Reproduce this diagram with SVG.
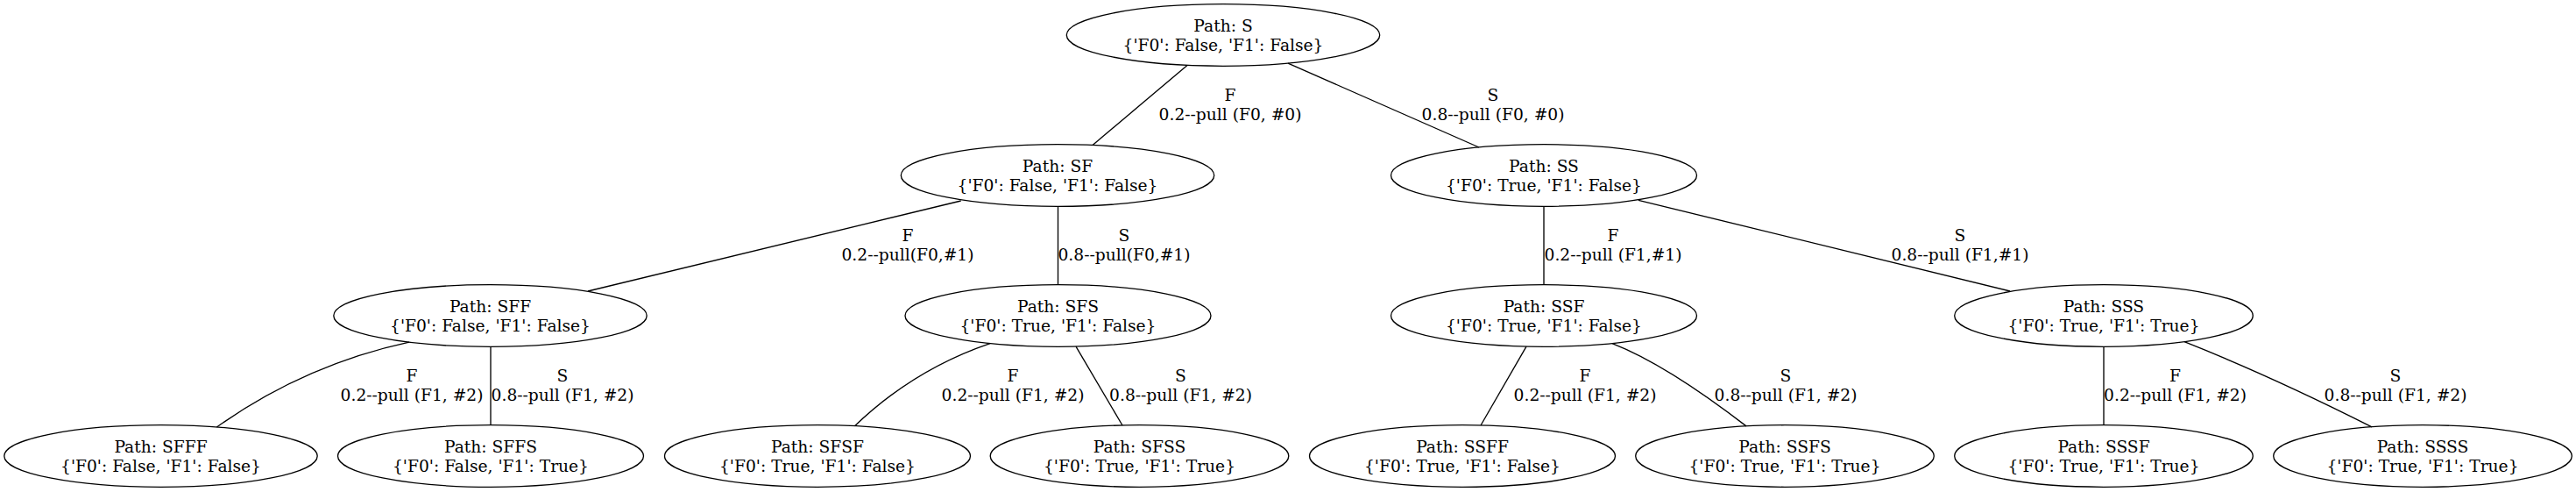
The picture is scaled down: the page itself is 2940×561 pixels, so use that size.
<svg xmlns="http://www.w3.org/2000/svg" width="2940" height="561" viewBox="0 0 2940 561">
<style>
.n ellipse{fill:none;stroke:#000;stroke-width:1.33}
.e path{fill:none;stroke:#000;stroke-width:1.33}
text{font-family:"DejaVu Serif",serif;font-size:18.67px;fill:#000;text-anchor:middle}
</style>
<rect width="2940" height="561" fill="#fff"/>
<g id="connectors" class="e">
<g id="e_S_SF"><path d="M1355,74.4 L1247,165.6"/><text x="1404" y="115">F</text><text x="1404" y="136.7">0.2--pull (F0, #0)</text></g>
<g id="e_S_SS"><path d="M1470,72.1 L1688,168"/><text x="1704" y="115">S</text><text x="1704" y="136.7">0.8--pull (F0, #0)</text></g>
<g id="e_SF_SFF"><path d="M1096.7,229 L671,332"/><text x="1036" y="275">F</text><text x="1036" y="296.7">0.2--pull(F0,#1)</text></g>
<g id="e_SF_SFS"><path d="M1207.5,235.3 L1207.5,324.7"/><text x="1283" y="275">S</text><text x="1283" y="296.7">0.8--pull(F0,#1)</text></g>
<g id="e_SS_SSF"><path d="M1762,235.3 L1762,324.7"/><text x="1841" y="275">F</text><text x="1841" y="296.7">0.2--pull (F1,#1)</text></g>
<g id="e_SS_SSS"><path d="M1870,228.3 L2294,332"/><text x="2237" y="275">S</text><text x="2237" y="296.7">0.8--pull (F1,#1)</text></g>
<g id="e_SFF_SFFF"><path d="M467,390.2 Q347.6,416 247.4,487"/><text x="470" y="435">F</text><text x="470" y="456.7">0.2--pull (F1, #2)</text></g>
<g id="e_SFF_SFFS"><path d="M560,395.3 L560,484.7"/><text x="642" y="435">S</text><text x="642" y="456.7">0.8--pull (F1, #2)</text></g>
<g id="e_SFS_SFSF"><path d="M1130,391.6 Q1042.6,421.3 975.5,485.8"/><text x="1156" y="435">F</text><text x="1156" y="456.7">0.2--pull (F1, #2)</text></g>
<g id="e_SFS_SFSS"><path d="M1228,395.1 L1281,485"/><text x="1347.5" y="435">S</text><text x="1347.5" y="456.7">0.8--pull (F1, #2)</text></g>
<g id="e_SSF_SSFF"><path d="M1742,395.1 L1690,485"/><text x="1809" y="435">F</text><text x="1809" y="456.7">0.2--pull (F1, #2)</text></g>
<g id="e_SSF_SSFS"><path d="M1840,391.6 Q1901.5,415.5 1993,485.9"/><text x="2038" y="435">S</text><text x="2038" y="456.7">0.8--pull (F1, #2)</text></g>
<g id="e_SSS_SSSF"><path d="M2401,395.3 L2401,484.7"/><text x="2482.5" y="435">F</text><text x="2482.5" y="456.7">0.2--pull (F1, #2)</text></g>
<g id="e_SSS_SSSS"><path d="M2493,389.7 Q2590,428 2707,486.8"/><text x="2734" y="435">S</text><text x="2734" y="456.7">0.8--pull (F1, #2)</text></g>
</g>
<g id="S" class="n"><ellipse cx="1396" cy="40" rx="178.7" ry="35.3"/><text x="1396" y="36">Path: S</text><text x="1396" y="57.5">{'F0': False, 'F1': False}</text></g>
<g id="SF" class="n"><ellipse cx="1207" cy="200" rx="178.7" ry="35.3"/><text x="1207" y="196">Path: SF</text><text x="1207" y="217.5">{'F0': False, 'F1': False}</text></g>
<g id="SS" class="n"><ellipse cx="1762" cy="200" rx="174.5" ry="35.3"/><text x="1762" y="196">Path: SS</text><text x="1762" y="217.5">{'F0': True, 'F1': False}</text></g>
<g id="SFF" class="n"><ellipse cx="559.5" cy="360" rx="178.7" ry="35.3"/><text x="559.5" y="356">Path: SFF</text><text x="559.5" y="377.5">{'F0': False, 'F1': False}</text></g>
<g id="SFS" class="n"><ellipse cx="1207.5" cy="360" rx="174.5" ry="35.3"/><text x="1207.5" y="356">Path: SFS</text><text x="1207.5" y="377.5">{'F0': True, 'F1': False}</text></g>
<g id="SSF" class="n"><ellipse cx="1762" cy="360" rx="174.5" ry="35.3"/><text x="1762" y="356">Path: SSF</text><text x="1762" y="377.5">{'F0': True, 'F1': False}</text></g>
<g id="SSS" class="n"><ellipse cx="2401" cy="360" rx="170.3" ry="35.3"/><text x="2401" y="356">Path: SSS</text><text x="2401" y="377.5">{'F0': True, 'F1': True}</text></g>
<g id="SFFF" class="n"><ellipse cx="183.5" cy="520" rx="178.7" ry="35.3"/><text x="183.5" y="516">Path: SFFF</text><text x="183.5" y="537.5">{'F0': False, 'F1': False}</text></g>
<g id="SFFS" class="n"><ellipse cx="560" cy="520" rx="174.5" ry="35.3"/><text x="560" y="516">Path: SFFS</text><text x="560" y="537.5">{'F0': False, 'F1': True}</text></g>
<g id="SFSF" class="n"><ellipse cx="933" cy="520" rx="174.5" ry="35.3"/><text x="933" y="516">Path: SFSF</text><text x="933" y="537.5">{'F0': True, 'F1': False}</text></g>
<g id="SFSS" class="n"><ellipse cx="1300.5" cy="520" rx="170.3" ry="35.3"/><text x="1300.5" y="516">Path: SFSS</text><text x="1300.5" y="537.5">{'F0': True, 'F1': True}</text></g>
<g id="SSFF" class="n"><ellipse cx="1669" cy="520" rx="174.5" ry="35.3"/><text x="1669" y="516">Path: SSFF</text><text x="1669" y="537.5">{'F0': True, 'F1': False}</text></g>
<g id="SSFS" class="n"><ellipse cx="2037" cy="520" rx="170.3" ry="35.3"/><text x="2037" y="516">Path: SSFS</text><text x="2037" y="537.5">{'F0': True, 'F1': True}</text></g>
<g id="SSSF" class="n"><ellipse cx="2401" cy="520" rx="170.3" ry="35.3"/><text x="2401" y="516">Path: SSSF</text><text x="2401" y="537.5">{'F0': True, 'F1': True}</text></g>
<g id="SSSS" class="n"><ellipse cx="2765" cy="520" rx="170.3" ry="35.3"/><text x="2765" y="516">Path: SSSS</text><text x="2765" y="537.5">{'F0': True, 'F1': True}</text></g>
</svg>
